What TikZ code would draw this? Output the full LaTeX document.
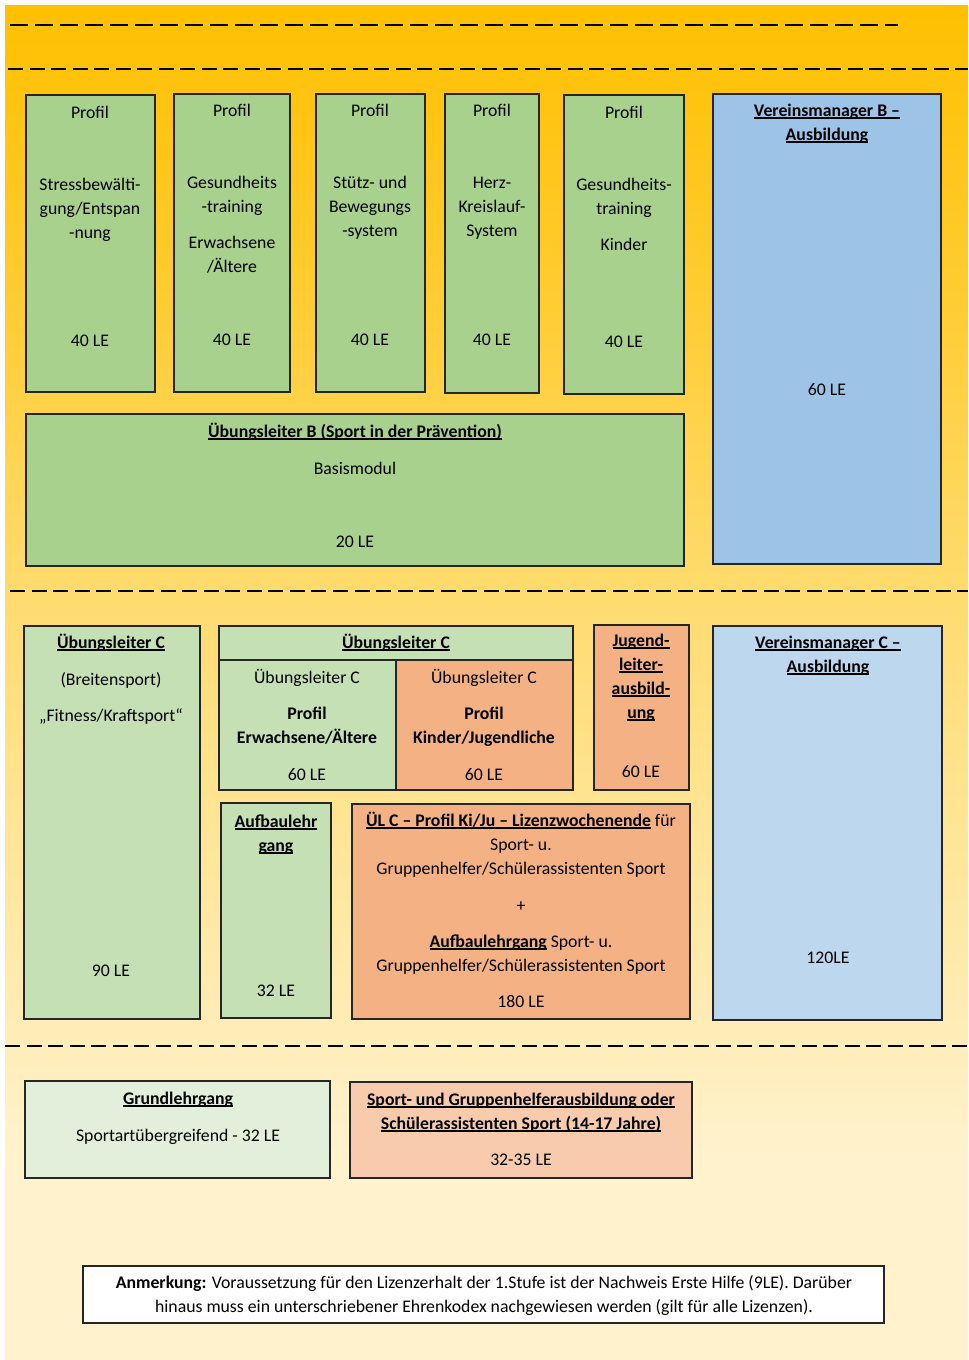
\documentclass[tikz,border=0pt]{standalone}
\usepackage{fontspec}
\setmainfont{Carlito}
\usetikzlibrary{fit}
\newcommand\fs{\fontsize{13.3pt}{18pt}\selectfont}
\newcommand\uln[1]{{\setbox0\hbox{#1}\rlap{\rule[-1.9pt]{\wd0}{0.85pt}}\box0}}
\definecolor{cbot}{HTML}{FFF2CC}
\definecolor{cA}{HTML}{FFEDBA}
\definecolor{cB}{HTML}{FFDC70}
\definecolor{cC}{HTML}{FFCC33}
\definecolor{ctop}{HTML}{FFC000}
\definecolor{gA}{HTML}{A9D18E}
\definecolor{gB}{HTML}{C5E0B4}
\definecolor{gC}{HTML}{E2EFDA}
\definecolor{bA}{HTML}{9DC3E6}
\definecolor{bB}{HTML}{BDD7EE}
\definecolor{oA}{HTML}{F4B183}
\definecolor{oB}{HTML}{F8CBAD}
\pgfdeclareverticalshading{bgshade}{100bp}{color(0bp)=(cbot); color(25bp)=(cbot); color(32.75bp)=(cbot); color(36.6bp)=(cA); color(53bp)=(cB); color(64bp)=(cC); color(75bp)=(ctop); color(100bp)=(ctop)}
\tikzset{
  box/.style={draw=black!85, line width=0.8pt, inner sep=0pt},
  lbl/.style={anchor=base, align=center, inner sep=0pt, font=\fs},
  dlineA/.style={line width=1.9pt, dash pattern=on 13.5pt off 5.25pt},
  dlineB/.style={line width=1.5pt, dash pattern=on 11.25pt off 4.9pt},
}
\begin{document}
\begin{tikzpicture}[x=0.75pt,y=-0.75pt]
\useasboundingbox (0,0) rectangle (968,1360);
\shade[shading=bgshade] (5,5) rectangle (968,1360);
% dashed separators
\draw[dlineA] (10,25) -- (898,25);
\draw[dlineB] (8,69) -- (968,69);
\draw[dlineB] (10,591) -- (968,591);
\draw[dlineB] (5,1046) -- (968,1046);

% row 1 profiles
\node[box, fill=gA, fit={(26,95) (155,392)}] (p1) {};
\node[box, fill=gA, fit={(174,94) (290,392)}] (p2) {};
\node[box, fill=gA, fit={(316,94) (425,392)}] (p3) {};
\node[box, fill=gA, fit={(445,94) (539,393)}] (p4) {};
\node[box, fill=gA, fit={(564,95) (684,394)}] (p5) {};
\node[box, fill=bA, fit={(713,94) (941,564)}] (vmb) {};
\node[box, fill=gA, fit={(26,414) (684,566)}] (ulb) {};

\node[lbl] (p1a) at (90,118) {Profil};
\node[lbl] (p1b) at (90,238) {Stressbewälti-\\gung/Entspan\\-nung};
\node[lbl] (p1c) at (90,346) {40 LE};

\node[lbl] (p2a) at (232,116) {Profil};
\node[lbl] (p2b) at (232,272) {Gesundheits\\-training\\[9pt]Erwachsene\\/Ältere};
\node[lbl] (p2c) at (232,345) {40 LE};

\node[lbl] (p3a) at (370,116) {Profil};
\node[lbl] (p3b) at (370,236) {Stütz- und\\Bewegungs\\-system};
\node[lbl] (p3c) at (370,345) {40 LE};

\node[lbl] (p4a) at (492,116) {Profil};
\node[lbl] (p4b) at (492,236) {Herz-\\Kreislauf-\\System};
\node[lbl] (p4c) at (492,345) {40 LE};

\node[lbl] (p5a) at (624,118) {Profil};
\node[lbl] (p5b) at (624,250) {Gesundheits-\\training\\[9pt]Kinder};
\node[lbl] (p5c) at (624,347) {40 LE};

\node[lbl] (vmba) at (827,140) {\textbf{\uln{Vereinsmanager B –}}\\\textbf{\uln{Ausbildung}}};
\node[lbl] (vmbb) at (827,395) {60 LE};

\node[lbl] (ulba) at (355,437) {\textbf{\uln{Übungsleiter B (Sport in der Prävention)}}};
\node[lbl] (ulbb) at (355,474) {Basismodul};
\node[lbl] (ulbc) at (355,547) {20 LE};

% row 2
\node[box, fill=gB, fit={(24,626) (200,1019)}] (ulc1) {};
\node[lbl] (ulc1a) at (111,648) {\textbf{\uln{Übungsleiter C}}};
\node[lbl] (ulc1b) at (111,685) {(Breitensport)};
\node[lbl] (ulc1c) at (111,721) {„Fitness/Kraftsport“};
\node[lbl] (ulc1d) at (111,976) {90 LE};

\node[box, fill=gB, fit={(219,626) (573,660)}] (ulch) {};
\node[box, fill=gB, fit={(219,660) (396,790)}] (ulcl) {};
\node[box, fill=oA, fit={(396,660) (573,790)}] (ulcr) {};
\node[lbl] (ulcha) at (396,648) {\textbf{\uln{Übungsleiter C}}};
\node[lbl] (ulcla) at (307,683) {Übungsleiter C};
\node[lbl] (ulclb) at (307,743) {\textbf{Profil}\\\textbf{Erwachsene/Ältere}};
\node[lbl] (ulclc) at (307,780) {60 LE};
\node[lbl] (ulcra) at (484,683) {Übungsleiter C};
\node[lbl] (ulcrb) at (484,743) {\textbf{Profil}\\\textbf{Kinder/Jugendliche}};
\node[lbl] (ulcrc) at (484,780) {60 LE};

\node[box, fill=oA, fit={(594,625) (689,790)}] (jl) {};
\node[lbl] (jla) at (641,718) {\textbf{\uln{Jugend-}}\\\textbf{\uln{leiter-}}\\\textbf{\uln{ausbild-}}\\\textbf{\uln{ung}}};
\node[lbl] (jlb) at (641,777) {60 LE};

\node[box, fill=bB, fit={(713,626) (942,1020)}] (vmc) {};
\node[lbl] (vmca) at (828,672) {\textbf{\uln{Vereinsmanager C –}}\\\textbf{\uln{Ausbildung}}};
\node[lbl] (vmcb) at (828,963) {120LE};

\node[box, fill=gB, fit={(221,803) (331,1018)}] (alg) {};
\node[lbl] (alga) at (276,851) {\textbf{\uln{Aufbaulehr}}\\\textbf{\uln{gang}}};
\node[lbl] (algb) at (276,996) {32 LE};

\node[box, fill=oA, fit={(352,804) (690,1019)}] (kiju) {};
\node[lbl] (kijua) at (521,874) {\textbf{\uln{ÜL C – Profil Ki/Ju – Lizenzwochenende}} für\\Sport- u.\\Gruppenhelfer/Schülerassistenten Sport};
\node[lbl] (kijub) at (521,911) {+};
\node[lbl] (kijuc) at (521,971) {\textbf{\uln{Aufbaulehrgang}} Sport- u.\\Gruppenhelfer/Schülerassistenten Sport};
\node[lbl] (kijud) at (521,1007) {180 LE};

% row 3
\node[box, fill=gC, fit={(25,1081) (330,1178)}] (gl) {};
\node[lbl] (gla) at (178,1104) {\textbf{\uln{Grundlehrgang}}};
\node[lbl] (glb) at (178,1141) {Sportartübergreifend - 32 LE};

\node[box, fill=oB, fit={(350,1082) (692,1178)}] (sg) {};
\node[lbl] (sga) at (521,1129) {\textbf{\uln{Sport- und Gruppenhelferausbildung oder}}\\\textbf{\uln{Schülerassistenten Sport (14-17 Jahre)}}};
\node[lbl] (sgb) at (521,1165) {32-35 LE};

\node[box, fill=white, fit={(83,1266) (884,1323)}] (anm) {};
\node[lbl] (anma) at (484,1312) {\textbf{Anmerkung:} Voraussetzung für den Lizenzerhalt der 1.Stufe ist der Nachweis Erste Hilfe (9LE). Darüber\\hinaus muss ein unterschriebener Ehrenkodex nachgewiesen werden (gilt für alle Lizenzen).};
\end{tikzpicture}
\end{document}
